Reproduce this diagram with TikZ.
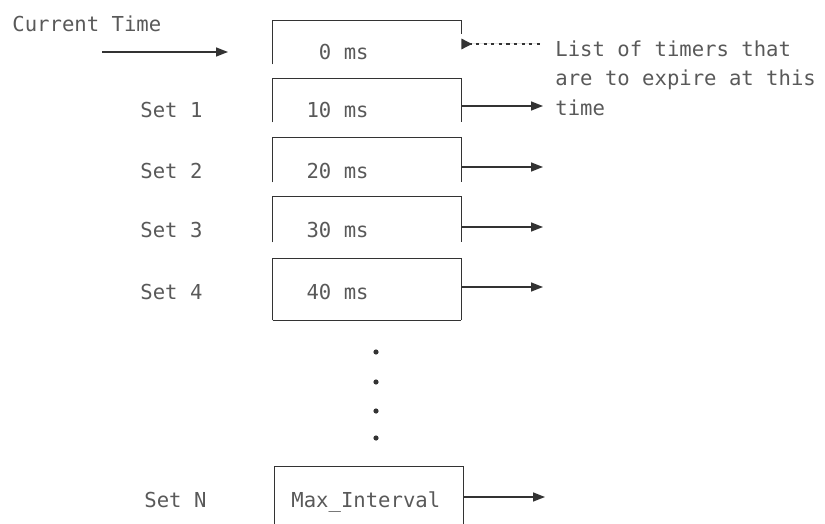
\documentclass[tikz,border=0pt]{standalone}
\usepackage{fontspec}
\setmainfont{DejaVu Sans Mono}
\usetikzlibrary{arrows.meta}

\begin{document}
\begin{tikzpicture}[x=0.5pt,y=-0.5pt,
    lbl/.style={font=\fontsize{10.3}{12}\selectfont,text=black!65,inner sep=0pt},
    slot/.style={line width=0.8pt,draw=black!80},
    slotbox/.style={minimum width=94pt,inner sep=0pt},
    tip/.style={-{Triangle[length=6pt,width=4.5pt]},line width=0.7pt,draw=black!80,fill=black!80},
    dots/.style={{Triangle[reversed,length=5.5pt,width=5pt,sep=0pt]}-,line width=1.4pt,dash pattern=on 1.6pt off 2.2pt,draw=black!80,fill=black!80}]
  \useasboundingbox (0,0) rectangle (825,524);
  \node[lbl,anchor=base west] (cur) at (12,32) {Current Time};
  \coordinate (curA) at (102,52);
  \coordinate (curB) at (228,52);
  \draw[tip] (curA) -- (curB);

  \node[slotbox,minimum height=21.5pt] (box0) at (367,42.5) {};
  \draw[slot] (box0.south west) -- (box0.north west) -- (box0.north east) -- ++(0,13);
  \node[lbl,anchor=base east] (val0) at (369,60) {0 ms};
  \coordinate (lend) at (540,44);
  \draw[dots] (box0.east |- lend) -- (lend);
  \node[lbl,anchor=base west] (list1) at (555,57) {List of timers that};
  \node[lbl,anchor=base west] (list2) at (555,86) {are to expire at this};
  \node[lbl,anchor=base west] (list3) at (555,116) {time};

  \foreach \n/\ya/\yb/\yt/\yr in {
    1/79/122/118/106,
    2/138/182/178/167,
    3/197/242/237/227,
    4/259/320/299/287}{
    \pgfmathsetmacro\cy{(\ya+\yb)/2}
    \pgfmathsetmacro\h{(\yb-\ya)*0.5}
    \node[slotbox,minimum height=\h pt] (box\n) at (367,\cy) {};
    \draw[slot] (box\n.south west) -- (box\n.north west) -- (box\n.north east) -- (box\n.south east);
    \node[lbl,anchor=base east] (val\n) at (369,\yt) {\n0 ms};
    \node[lbl,anchor=base west] (set\n) at (140,\yt) {Set \n};
    \coordinate (end\n) at (543,\yr);
    \draw[tip] (box\n.east |- end\n) -- (end\n);
  }
  \draw[slot] (box4.south west) -- (box4.south east);

  \foreach \k/\y in {1/352,2/382,3/411,4/438}
    \node[circle,fill=black!80,inner sep=0pt,minimum size=2.6pt] (dot\k) at (376,\y) {};

  \node[slotbox,minimum height=28.5pt] (boxN) at (369,495.5) {};
  \draw[slot] (boxN.south west) -- (boxN.north west) -- (boxN.north east) -- (boxN.south east);
  \node[lbl,anchor=base west] (valN) at (291,507) {Max\_Interval};
  \node[lbl,anchor=base west] (setN) at (144,507) {Set N};
  \coordinate (endN) at (545,497);
  \draw[tip] (boxN.east |- endN) -- (endN);
\end{tikzpicture}
\end{document}
